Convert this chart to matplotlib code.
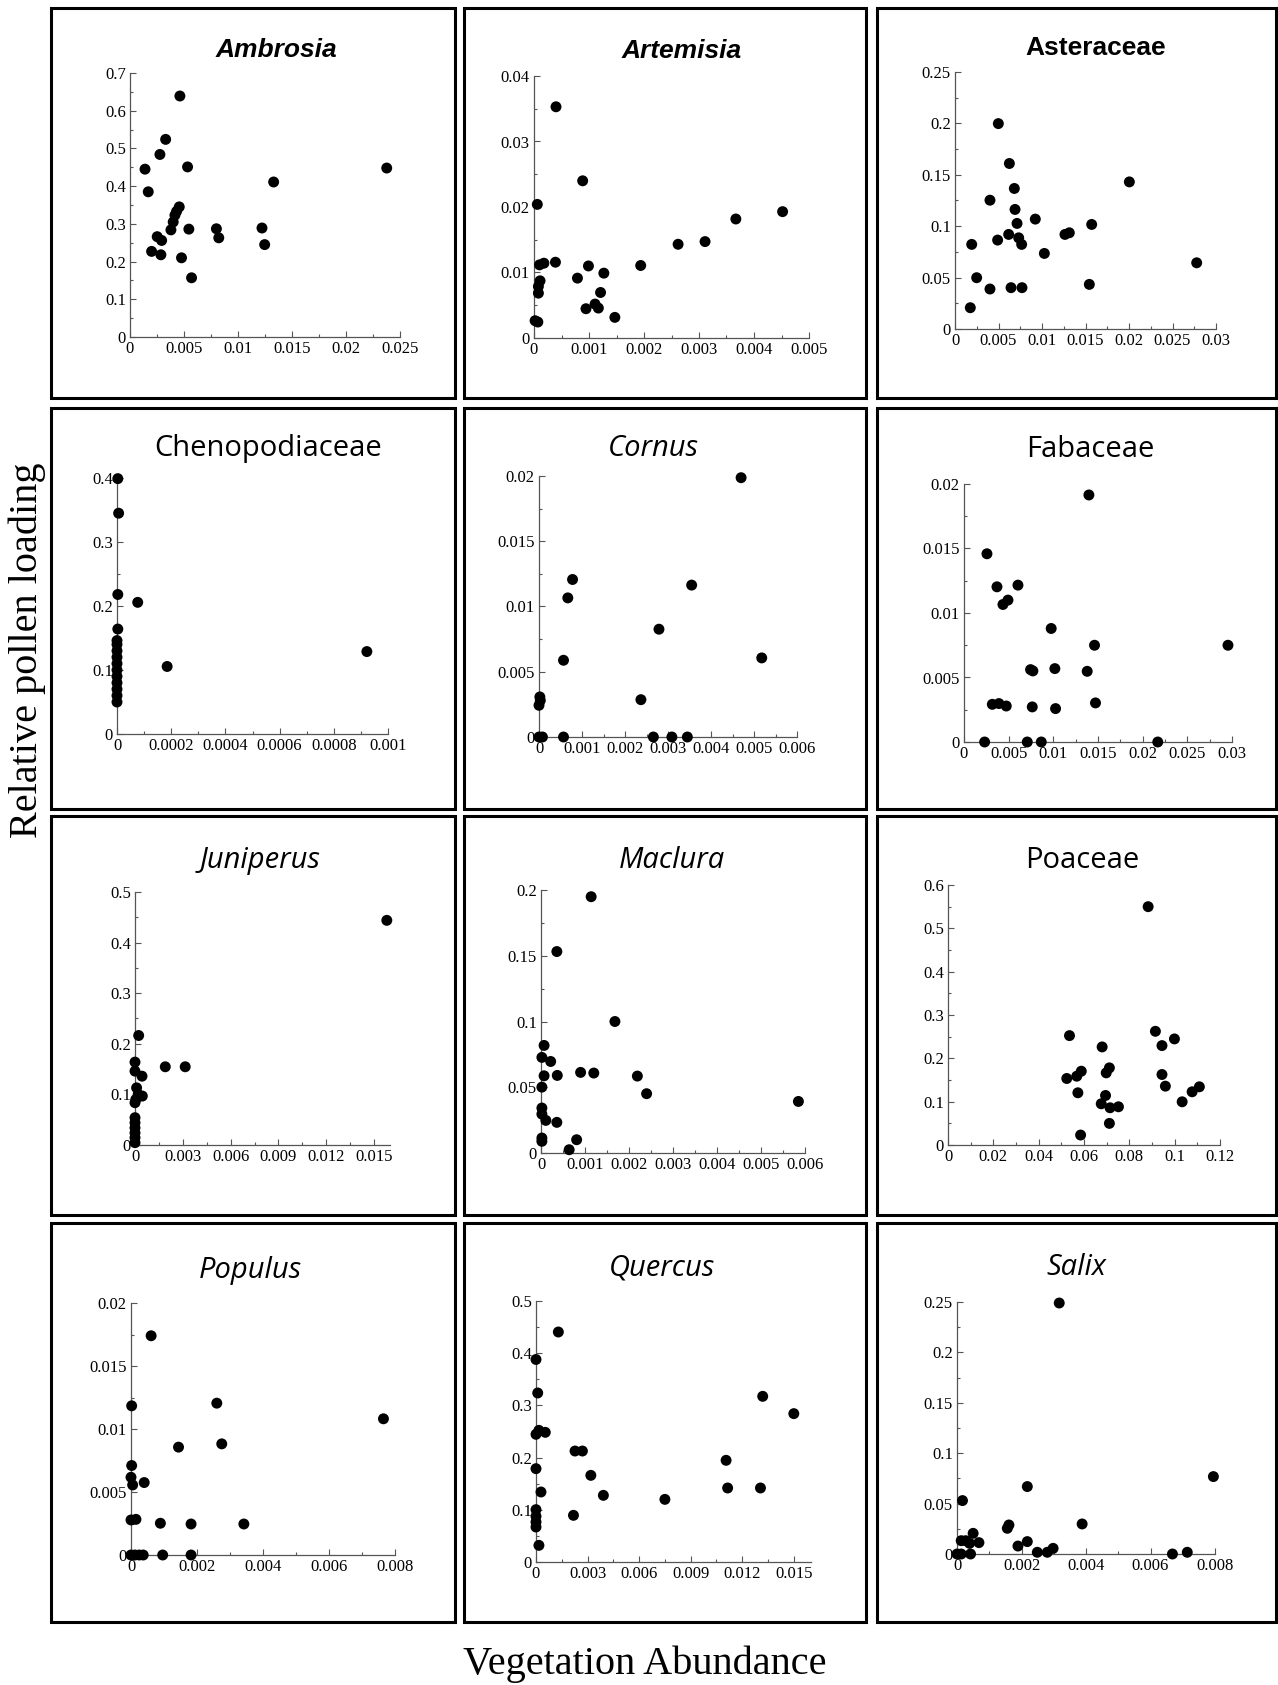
import matplotlib
matplotlib.use("Agg")
import matplotlib.pyplot as plt
from matplotlib.patches import Rectangle
from matplotlib.ticker import MultipleLocator, FuncFormatter

# ---- data (vegetation abundance, relative pollen loading) ----
ambrosia_x = [0.00139, 0.00169, 0.00277, 0.0033, 0.00462, 0.00533, 0.002, 0.00252, 0.00293,
              0.00286, 0.00379, 0.004, 0.00416, 0.00431, 0.00456, 0.00477, 0.00545, 0.0057,
              0.0080, 0.00822, 0.01222, 0.01247, 0.0133, 0.02377]
ambrosia_y = [0.445, 0.385, 0.484, 0.524, 0.639, 0.451, 0.227, 0.266, 0.256,
              0.218, 0.284, 0.305, 0.323, 0.333, 0.345, 0.21, 0.286, 0.157,
              0.287, 0.263, 0.289, 0.245, 0.411, 0.448]

artemisia_x = [0.0004, 0.000885, 0.00006, 0.00002, 0.00007, 0.0001, 0.00018, 0.00039, 0.00011,
               0.00008, 0.00008, 0.00079, 0.00099, 0.00127, 0.000945, 0.00111, 0.00117, 0.00121,
               0.00147, 0.00194, 0.00262, 0.00311, 0.00367, 0.00452]
artemisia_y = [0.0353, 0.024, 0.0204, 0.00264, 0.00244, 0.01117, 0.01142, 0.01157, 0.00873,
               0.00787, 0.00685, 0.00914, 0.011, 0.0099, 0.00447, 0.00518, 0.00457, 0.00695,
               0.00315, 0.01107, 0.01431, 0.01472, 0.01817, 0.01929]

asteraceae_x = [0.00498, 0.00625, 0.00682, 0.00402, 0.0069, 0.00713, 0.00923, 0.00617, 0.0049,
                0.00732, 0.00766, 0.00192, 0.00249, 0.00402, 0.00644, 0.0077, 0.00176, 0.01027,
                0.01264, 0.01314, 0.01571, 0.01544, 0.02004, 0.02778]
asteraceae_y = [0.1998, 0.161, 0.1367, 0.1253, 0.1163, 0.1027, 0.1069, 0.092, 0.0865,
                0.0887, 0.0823, 0.0823, 0.0499, 0.0389, 0.0402, 0.0402, 0.0207, 0.0735,
                0.092, 0.0936, 0.1017, 0.0434, 0.1431, 0.0644]

cheno_x = [0.000003, 0.000006, 0.000003, 0.000003, 0.0, 0.0, 0.0, 0.0, 0.0, 0.0, 0.0, 0.0, 0.0,
           0.0, 0.0, 0.0000764, 0.000185, 0.000922]
cheno_y = [0.399, 0.345, 0.218, 0.164, 0.05, 0.06, 0.07, 0.08, 0.09, 0.10, 0.11, 0.12, 0.13,
           0.14, 0.146, 0.2057, 0.1055, 0.1288]

cornus_x = [0.0047, 0.00078, 0.00067, 0.00057, 0.00355, 0.00279, 0.00518, 0.00237, 0.00002,
            0.0, 0.00003, 0.0, 0.00008, 0.00057, 0.00266, 0.00309, 0.00345]
cornus_y = [0.01987, 0.01207, 0.01066, 0.00588, 0.01164, 0.00826, 0.00606, 0.00286, 0.00307,
            0.00243, 0.0028, 0.0, 0.0, 0.0, 0.0, 0.0, 0.0]

fabaceae_x = [0.01398, 0.00257, 0.00369, 0.00604, 0.00436, 0.00492, 0.00976, 0.01461, 0.02955,
              0.00745, 0.00771, 0.01017, 0.01379, 0.00317, 0.00391, 0.00473, 0.00764, 0.01025,
              0.01472, 0.00231, 0.00708, 0.00865, 0.02169]
fabaceae_y = [0.01915, 0.01459, 0.01203, 0.01216, 0.01066, 0.011, 0.0088, 0.0075, 0.0075,
              0.00561, 0.00551, 0.00569, 0.00548, 0.00292, 0.00298, 0.00279, 0.00272, 0.00259,
              0.00303, 0.0, 0.0, 0.0, 0.0]

juniperus_x = [0.0158, 0.00023, 0.0019, 0.00315, 0.0, 0.0, 0.00044, 0.0001, 0.0002, 0.00046,
               0.0, 0.00005, 0.0, 0.0, 0.0, 0.0, 0.0, 0.0]
juniperus_y = [0.444, 0.2164, 0.1546, 0.1546, 0.1638, 0.146, 0.136, 0.113, 0.1, 0.0967,
               0.0836, 0.09, 0.054, 0.044, 0.034, 0.024, 0.0145, 0.0046]

maclura_x = [0.00114, 0.00036, 0.00168, 0.00007, 0.00002, 0.00022, 0.00007, 0.00037, 0.0009,
             0.0012, 0.00219, 0.0024, 0.00585, 0.00002, 0.00002, 0.00002, 0.00011, 0.00036,
             0.00002, 0.00002, 0.00081, 0.00064]
maclura_y = [0.1949, 0.1532, 0.1, 0.0818, 0.0727, 0.0696, 0.0587, 0.059, 0.0613,
             0.0608, 0.0585, 0.0451, 0.0392, 0.0501, 0.0342, 0.0296, 0.0248, 0.0233,
             0.0114, 0.0089, 0.0101, 0.0025]

poaceae_x = [0.0883, 0.0536, 0.0915, 0.0999, 0.0944, 0.068, 0.0524, 0.0568, 0.0588, 0.0712,
             0.0698, 0.0944, 0.0959, 0.0573, 0.0695, 0.0676, 0.0715, 0.0752, 0.0712, 0.0585,
             0.1033, 0.1077, 0.1109]
poaceae_y = [0.550, 0.2524, 0.2624, 0.2448, 0.2294, 0.2263, 0.1535, 0.1588, 0.1703, 0.178,
             0.1665, 0.1627, 0.1358, 0.1205, 0.1143, 0.0951, 0.0859, 0.0882, 0.0499, 0.023,
             0.0997, 0.1228, 0.1343]

populus_x = [0.00061, 0.00002, 0.0026, 0.00765, 0.00144, 0.00275, 0.00002, 0.0, 0.00005,
             0.0004, 0.0, 0.00015, 0.00089, 0.00182, 0.00342, 0.0, 0.00012, 0.00025,
             0.00037, 0.00096, 0.00182]
populus_y = [0.0174, 0.01184, 0.01205, 0.01081, 0.00856, 0.00882, 0.0071, 0.00617, 0.00556,
             0.00575, 0.00278, 0.00283, 0.00252, 0.00246, 0.00246, 0.0, 0.0, 0.0,
             0.0, 0.0, 0.0]

quercus_x = [0.0013, 0.0, 0.0001, 0.0, 0.00017, 0.00054, 0.00227, 0.0027, 0.0, 0.00319,
             0.00029, 0.00392, 0.0075, 0.00218, 0.0, 0.0, 0.0, 0.0, 0.00017, 0.01106,
             0.01115, 0.01306, 0.01319, 0.015]
quercus_y = [0.4406, 0.388, 0.3238, 0.2446, 0.2522, 0.2484, 0.2126, 0.2126, 0.1788, 0.166,
             0.1341, 0.1277, 0.12, 0.0894, 0.1003, 0.0875, 0.0766, 0.067, 0.0319, 0.1948,
             0.1418, 0.1418, 0.3174, 0.2842]

salix_x = [0.00317, 0.00795, 0.00218, 0.00017, 0.00388, 0.00161, 0.00156, 0.0005, 0.00013,
           0.00027, 0.00039, 0.00068, 0.00189, 0.00218, 0.00249, 0.0028, 0.00298, 0.0,
           0.00013, 0.00042, 0.00668, 0.00714]
salix_y = [0.249, 0.0768, 0.0669, 0.053, 0.0298, 0.0288, 0.0255, 0.0205, 0.0132,
           0.0132, 0.0106, 0.0113, 0.0079, 0.0123, 0.0017, 0.0017, 0.0056, 0.0,
           0.0, 0.0, 0.0, 0.0017]

plt.rcParams['font.family'] = ['Liberation Serif', 'DejaVu Serif']
plt.rcParams['xtick.labelsize'] = 12
plt.rcParams['ytick.labelsize'] = 12

W, H = 1278, 1685
fig = plt.figure(figsize=(W / 100, H / 100), dpi=100)
fig.patch.set_facecolor("white")


def fx(px):
    return px / W


def fy(py):
    return 1 - py / H


# name, x, y, (xmax, xmajor), (ymax, ymajor), axes box in px (l, r, top, bottom),
# title (font, style, weight, size, cx, baseline)
panels = [
    ("Ambrosia", ambrosia_x, ambrosia_y, (0.025, 0.005), (0.7, 0.1), (130, 400, 73, 337),
     ("Liberation Sans", "italic", "bold", 19, 276, 57)),
    ("Artemisia", artemisia_x, artemisia_y, (0.005, 0.001), (0.04, 0.01), (534, 809, 76, 338),
     ("Liberation Sans", "italic", "bold", 19, 682, 58)),
    ("Asteraceae", asteraceae_x, asteraceae_y, (0.03, 0.005), (0.25, 0.05), (955, 1216, 72, 329),
     ("Liberation Sans", "normal", "bold", 19, 1096, 55)),
    ("Chenopodiaceae", cheno_x, cheno_y, (0.001, 0.0002), (0.4, 0.1), (117, 388, 478, 734),
     ("Open Sans", "normal", "normal", 21, 268, 456)),
    ("Cornus", cornus_x, cornus_y, (0.006, 0.001), (0.02, 0.005), (539, 797, 476, 737),
     ("Open Sans", "italic", "normal", 21, 653, 456)),
    ("Fabaceae", fabaceae_x, fabaceae_y, (0.03, 0.005), (0.02, 0.005), (964, 1232, 484, 742),
     ("Open Sans", "normal", "normal", 21, 1090, 457)),
    ("Juniperus", juniperus_x, juniperus_y, (0.016, 0.003), (0.5, 0.1), (135, 390, 892, 1145),
     ("Open Sans", "italic", "normal", 21, 260, 868)),
    ("Maclura", maclura_x, maclura_y, (0.006, 0.001), (0.2, 0.05), (541, 805, 890, 1153),
     ("Open Sans", "italic", "normal", 21, 672, 868)),
    ("Poaceae", poaceae_x, poaceae_y, (0.12, 0.02), (0.6, 0.1), (948, 1220, 885, 1145),
     ("Open Sans", "normal", "normal", 21, 1082, 868)),
    ("Populus", populus_x, populus_y, (0.008, 0.002), (0.02, 0.005), (131, 395, 1303, 1555),
     ("Open Sans", "italic", "normal", 21, 250, 1278)),
    ("Quercus", quercus_x, quercus_y, (0.016, 0.003), (0.5, 0.1), (536, 811, 1301, 1562),
     ("Open Sans", "italic", "normal", 21, 662, 1275)),
    ("Salix", salix_x, salix_y, (0.008, 0.002), (0.25, 0.05), (957, 1215, 1302, 1554),
     ("Open Sans", "italic", "normal", 21, 1076, 1275)),
]

frame_cols = [(51, 455), (464, 866), (877, 1276)]
frame_rows = [(8, 398), (408, 809), (816, 1215), (1223, 1622)]

fmt = FuncFormatter(lambda v, _: "0" if abs(v) < 1e-12 else f"{v:g}")
axis_col = "#555555"

for i, (name, xs, ys, (xmax, xmaj), (ymax, ymaj), (l, r, t, b), title) in enumerate(panels):
    c0, c1 = frame_cols[i % 3]
    r0, r1 = frame_rows[i // 3]
    fig.patches.append(Rectangle((fx(c0), fy(r1)), fx(c1 - c0), (r1 - r0) / H,
                                 transform=fig.transFigure, fill=False,
                                 edgecolor="black", linewidth=2.2, zorder=0))

    ax = fig.add_axes([fx(l), fy(b), fx(r - l), (b - t) / H])
    ax.scatter(xs, ys, s=62, color="black", edgecolors="none", clip_on=False, zorder=3)
    ax.set_xlim(0, xmax)
    ax.set_ylim(0, ymax)
    ax.xaxis.set_major_locator(MultipleLocator(xmaj))
    ax.xaxis.set_minor_locator(MultipleLocator(xmaj / 2))
    ax.yaxis.set_major_locator(MultipleLocator(ymaj))
    ax.yaxis.set_minor_locator(MultipleLocator(ymaj / 2))
    ax.xaxis.set_major_formatter(fmt)
    ax.yaxis.set_major_formatter(fmt)
    for side in ["top", "right"]:
        ax.spines[side].set_visible(False)
    for side in ["left", "bottom"]:
        ax.spines[side].set_color(axis_col)
        ax.spines[side].set_linewidth(0.9)
    ax.tick_params(which="major", direction="in", length=4, width=0.8, color=axis_col,
                   labelsize=12, pad=3)
    ax.tick_params(which="minor", direction="in", length=2.5, width=0.8, color=axis_col)
    ax.set_facecolor("none")

    fam, style, weight, size, cx, base = title
    fig.text(fx(cx), fy(base), name, family=fam, style=style, weight=weight,
             fontsize=size, ha="center", va="baseline")

fig.text(fx(27), fy(650), "Relative pollen loading", family="Liberation Serif",
         fontsize=29, rotation=90, ha="center", va="center")
fig.text(fx(645), fy(1664), "Vegetation Abundance", family="Liberation Serif",
         fontsize=29, ha="center", va="center")

fig.savefig("out.png", dpi=100, facecolor="white")
